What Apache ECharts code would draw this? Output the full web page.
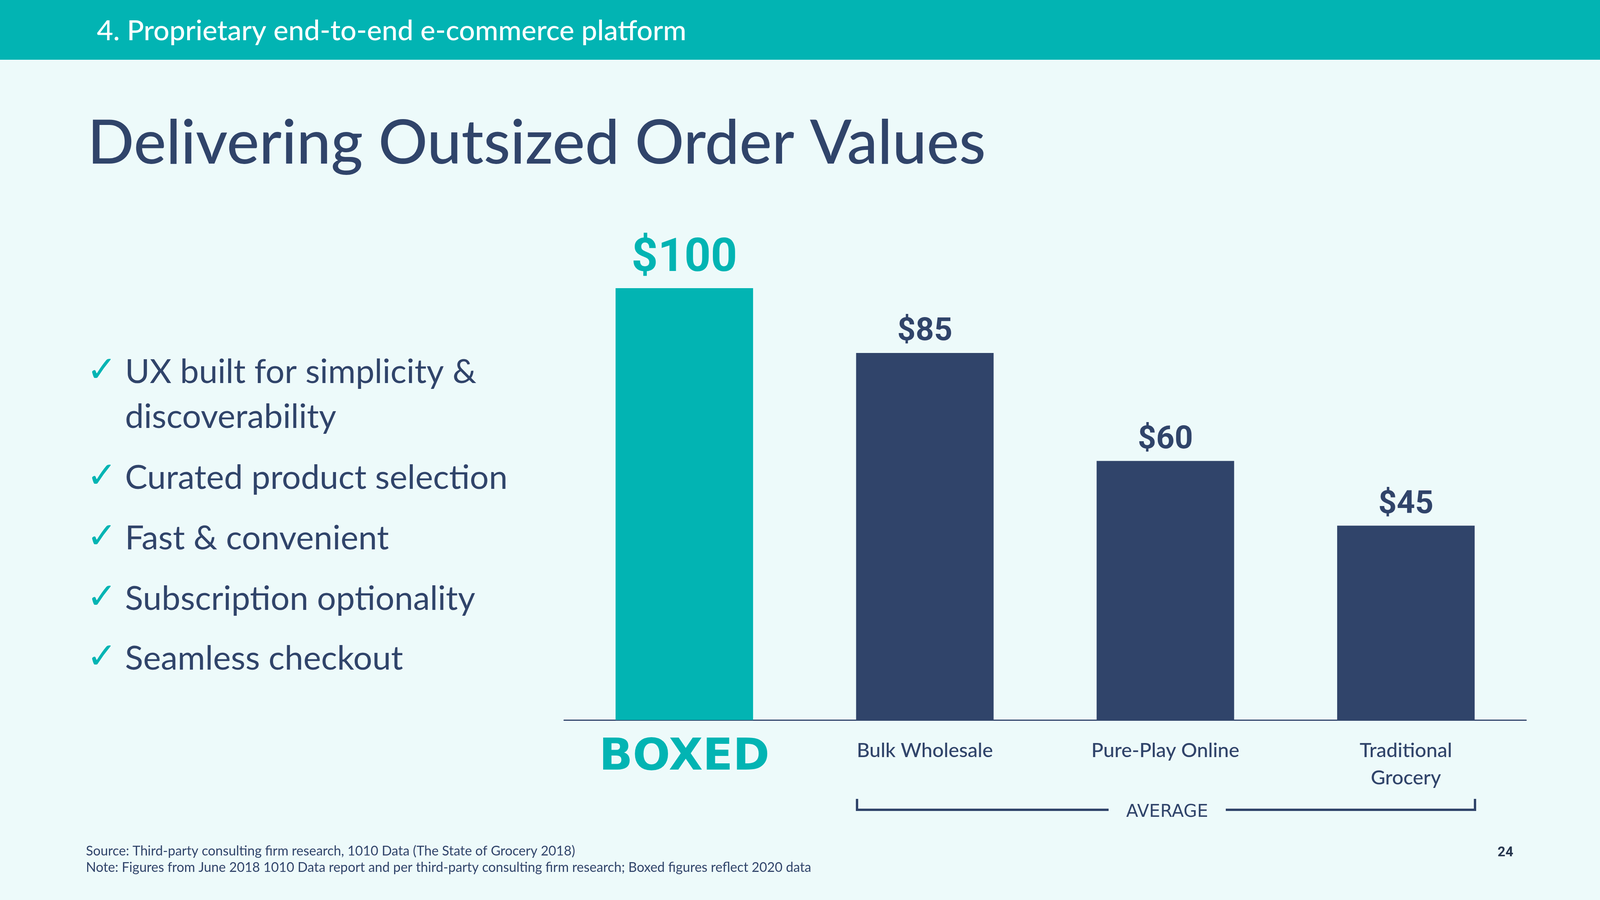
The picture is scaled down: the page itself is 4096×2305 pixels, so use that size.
<!DOCTYPE html>
<html><head><meta charset="utf-8">
<script src="https://cdn.jsdelivr.net/npm/echarts@6/dist/echarts.min.js"></script>
<style>html,body{margin:0;padding:0;background:#edfafa;overflow:hidden}#c{width:4096px;height:2305px}</style>
</head><body><div id="c"></div>
<script>
const categories = ['BOXED', 'Bulk Wholesale', 'Pure-Play Online', 'Traditional\nGrocery'];
const values = [100, 85, 60, 45];
const headerText = '4. Proprietary end-to-end e-commerce platform';
const titleText = 'Delivering Outsized Order Values';
const bullets = [
  ['UX built for simplicity &', 'discoverability'],
  ['Curated product selection'],
  ['Fast & convenient'],
  ['Subscription optionality'],
  ['Seamless checkout']
];
const bracketLabel = 'AVERAGE';
const sourceNote = 'Source: Third-party consulting firm research, 1010 Data (The State of Grocery 2018)';
const footNote = 'Note: Figures from June 2018 1010 Data report and per third-party consulting firm research; Boxed figures reflect 2020 data';
const pageNumber = '24';

const NAVY = '#30446a';
const TEAL = '#02b4b3';
const FONT = 'Lato, "Open Sans", sans-serif';

const chart = echarts.init(document.getElementById('c'), null, {renderer: 'canvas'});

const graphics = [];
graphics.push({type: 'rect', left: 0, top: 0, shape: {width: 4096, height: 153}, style: {fill: TEAL}, silent: true});
graphics.push({type: 'text', x: 248, y: 80, style: {text: headerText, fill: '#ffffff', font: '500 72px ' + FONT, verticalAlign: 'middle'}});
graphics.push({type: 'text', x: 224, y: 368, style: {text: titleText, fill: NAVY, font: '500 157px ' + FONT, verticalAlign: 'middle'}});

// bullets
const bulletLineY = [[953, 1068], [1224], [1379], [1534], [1687]];
bullets.forEach((lines, i) => {
  graphics.push({type: 'text', x: 222, y: bulletLineY[i][0], style: {text: '\u2713', fill: TEAL, font: '92px "DejaVu Sans", sans-serif', verticalAlign: 'middle'}});
  lines.forEach((ln, j) => {
    graphics.push({type: 'text', x: 320, y: bulletLineY[i][j], style: {text: ln, fill: NAVY, font: '400 86px ' + FONT, verticalAlign: 'middle'}});
  });
});

// bracket
const bx0 = 2194, bx1 = 3776, by = 2074;
graphics.push({type: 'polyline', shape: {points: [[bx0, 2046], [bx0, by], [2838, by]]}, style: {stroke: NAVY, lineWidth: 6, fill: null}});
graphics.push({type: 'polyline', shape: {points: [[3138, by], [bx1, by], [bx1, 2046]]}, style: {stroke: NAVY, lineWidth: 6, fill: null}});
graphics.push({type: 'text', x: 2988, y: 2080, style: {text: bracketLabel, fill: NAVY, font: '400 45px "DejaVu Sans", sans-serif', align: 'center', verticalAlign: 'middle'}});

// footer
graphics.push({type: 'text', x: 220, y: 2180, style: {text: sourceNote, fill: NAVY, font: '400 34px ' + FONT, verticalAlign: 'middle'}});
graphics.push({type: 'text', x: 220, y: 2222, style: {text: footNote, fill: NAVY, font: '400 34px ' + FONT, verticalAlign: 'middle'}});
graphics.push({type: 'text', x: 3874, y: 2184, style: {text: pageNumber, fill: '#28374f', font: 'bold 35px Roboto, sans-serif', align: 'right', verticalAlign: 'middle'}});

const seriesData = values.map((v, i) => ({
  value: v,
  itemStyle: {color: i === 0 ? TEAL : NAVY},
  label: i === 0
    ? {fontSize: 118, lineHeight: 118, color: TEAL, distance: 15}
    : {fontSize: 82, lineHeight: 82, color: NAVY, distance: 12}
}));

chart.setOption({
  backgroundColor: '#edfafa',
  animation: false,
  grid: {left: 1444, width: 2463, top: 738, height: 1106, containLabel: false},
  xAxis: {
    type: 'category',
    data: categories,
    axisTick: {show: false},
    axisLine: {lineStyle: {color: NAVY, width: 3}},
    axisLabel: {
      interval: 0,
      margin: 44,
      verticalAlign: 'top',
      color: NAVY,
      fontFamily: FONT,
      fontSize: 51,
      fontWeight: 500,
      lineHeight: 70,
      formatter: (v, i) => i === 0 ? '{logo|' + v + '}' : v,
      rich: {
        logo: {fontFamily: '"DejaVu Sans", sans-serif', fontWeight: 'bold', fontSize: 113, lineHeight: 108, color: TEAL}
      }
    }
  },
  yAxis: {type: 'value', min: 0, max: 100, show: false, splitLine: {show: false}},
  series: [{
    type: 'bar',
    data: seriesData,
    barWidth: 352,
    label: {show: true, position: 'top', formatter: '${c}', fontFamily: 'Roboto, sans-serif', fontWeight: 'bold'}
  }],
  graphic: graphics
});
</script></body></html>
